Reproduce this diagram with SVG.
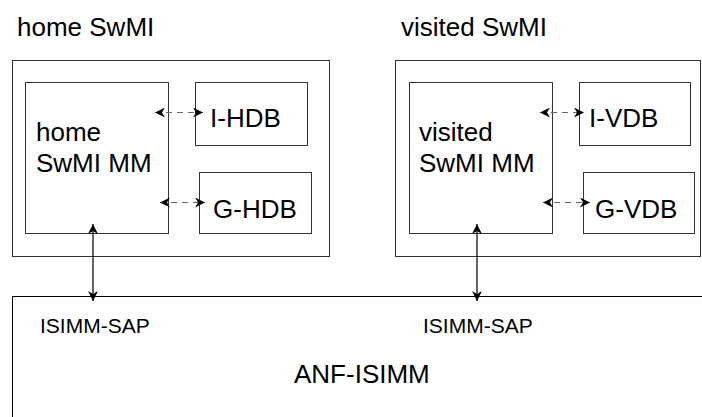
<svg xmlns="http://www.w3.org/2000/svg" width="702" height="417" viewBox="0 0 702 417">
<style>
text{font-family:"Liberation Sans",Arial,sans-serif;fill:#000}
.box{fill:none;stroke:#333;stroke-width:1}
.big{font-size:26px}
.sap{font-size:21px}
.dash{stroke:#666;stroke-width:1;stroke-dasharray:6 5;fill:none}
.solid{stroke:#000;stroke-width:1.2;fill:none}
</style>
<defs>
<marker id="ah" viewBox="0 0 10 10" refX="10" refY="5" markerWidth="10" markerHeight="10" markerUnits="userSpaceOnUse" orient="auto-start-reverse">
<path d="M0,0 L10,5 L0,10 L3,5 z" fill="#000"/>
</marker>
</defs>
<rect width="702" height="417" fill="#fff"/>
<g id="home-swmi">
<text class="big" x="17" y="36">home SwMI</text>
<rect class="box" x="12.5" y="60.5" width="317" height="196"/>
</g>
<g id="home-mm">
<rect class="box" x="25.5" y="82.5" width="143" height="151"/>
<text class="big" x="36" y="141">home</text>
<text class="big" x="36" y="172">SwMI MM</text>
</g>
<g id="i-hdb">
<rect class="box" x="195.5" y="82.5" width="112" height="63"/>
<text class="big" x="210" y="127">I-HDB</text>
</g>
<g id="g-hdb">
<rect class="box" x="199.5" y="172.5" width="112" height="61"/>
<text class="big" x="213" y="218">G-HDB</text>
</g>
<g id="visited-swmi">
<text class="big" x="401" y="36">visited SwMI</text>
<rect class="box" x="395.5" y="60.5" width="305" height="196"/>
</g>
<g id="visited-mm">
<rect class="box" x="409.5" y="82.5" width="143" height="151"/>
<text class="big" x="419" y="141">visited</text>
<text class="big" x="419" y="172">SwMI MM</text>
</g>
<g id="i-vdb">
<rect class="box" x="579.5" y="82.5" width="111" height="63"/>
<text class="big" x="589" y="127">I-VDB</text>
</g>
<g id="g-vdb">
<rect class="box" x="583.5" y="172.5" width="111" height="61"/>
<text class="big" x="595" y="218">G-VDB</text>
</g>
<g id="anf-isimm">
<rect x="12.5" y="296.5" width="700" height="200" fill="none" stroke="#000" stroke-width="1"/>
<text class="sap" x="40" y="333">ISIMM-SAP</text>
<text class="sap" x="423" y="333">ISIMM-SAP</text>
<text class="big" x="294" y="383">ANF-ISIMM</text>
</g>
<g id="connectors">
<line class="dash" x1="155" y1="112.5" x2="203" y2="112.5" marker-start="url(#ah)" marker-end="url(#ah)"/>
<line class="dash" x1="160" y1="202.5" x2="205" y2="202.5" marker-start="url(#ah)" marker-end="url(#ah)"/>
<line class="dash" x1="540" y1="112.5" x2="584" y2="112.5" marker-start="url(#ah)" marker-end="url(#ah)"/>
<line class="dash" x1="543" y1="202.5" x2="590" y2="202.5" marker-start="url(#ah)" marker-end="url(#ah)"/>
<line class="solid" x1="93" y1="224" x2="93" y2="301" marker-start="url(#ah)" marker-end="url(#ah)"/>
<line class="solid" x1="477" y1="224" x2="477" y2="301" marker-start="url(#ah)" marker-end="url(#ah)"/>
</g>
</svg>
